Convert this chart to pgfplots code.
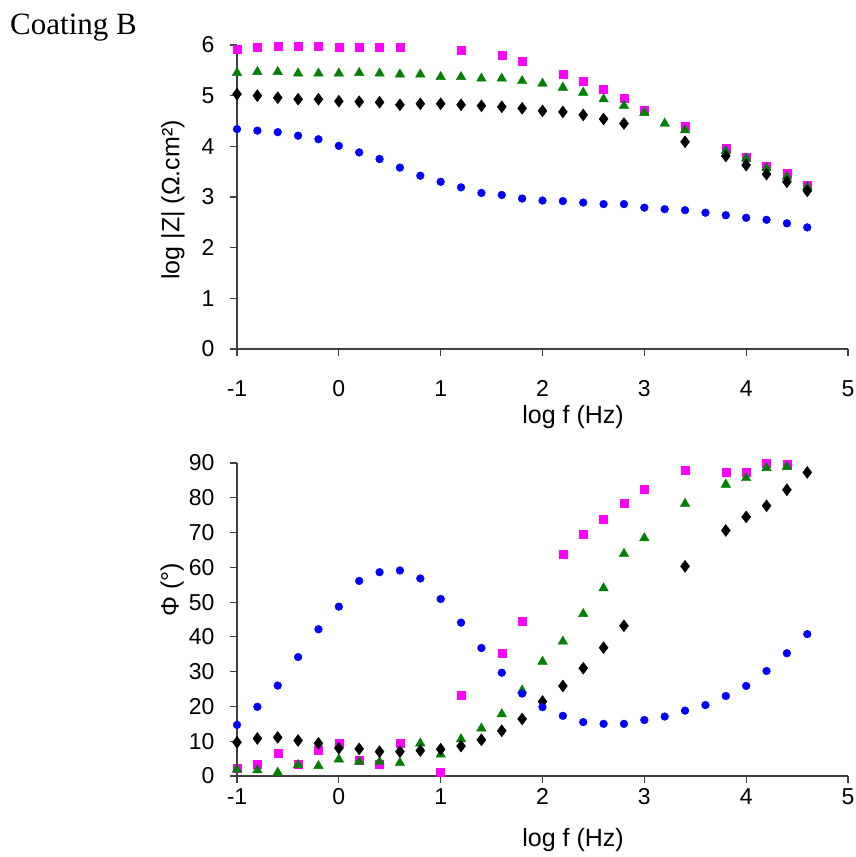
\documentclass[border=0pt]{standalone}
\usepackage{pgfplots}
\pgfplotsset{compat=1.18}
\usepackage{fontspec}
\setmainfont{Liberation Sans}
\newfontfamily\serifB{Liberation Serif}
\definecolor{pinkM}{RGB}{255,0,255}
\definecolor{greenM}{RGB}{0,128,0}
\definecolor{blueM}{RGB}{0,0,255}
\pgfplotsset{
  myaxis/.style={
    scale only axis, axis x line=bottom, axis y line=left,
    axis line style={-, line width=1.3pt, color=black!75},
    every tick/.style={line width=1.1pt, black!75},
    tick align=outside, major tick length=7pt,
    xmin=-1, xmax=5, xtick={-1,0,...,5},
    tick label style={font=\fontsize{23}{28}\selectfont},
    label style={font=\fontsize{25}{30}\selectfont},
    /pgf/number format/assume math mode=true,
    yticklabel style={xshift=-12pt},
    clip=false,
  },
  pk/.style={only marks, mark=square*, mark size=4pt, color=pinkM},
  gr/.style={only marks, mark=triangle*, mark size=5.5pt, color=greenM},
  bk/.style={only marks, mark=diamond*, mark size=6pt, color=black},
  bl/.style={only marks, mark=*, mark size=3.9pt, color=blueM},
}
\begin{document}
\begin{tikzpicture}
\path[use as bounding box] (0pt,0pt) rectangle (856pt,857pt);
\node[anchor=base west, font=\serifB\fontsize{31}{36}\selectfont, inner sep=0pt] at (10pt,822pt) {Coating B};

\begin{axis}[myaxis,
  at={(237pt,508pt)}, anchor=south west,
  width=611pt, height=304pt,
  ymin=0, ymax=6, ytick={0,1,...,6},
  xticklabel style={yshift=-21pt},
  xlabel={log f (Hz)}, xlabel style={at={(axis description cs:0.55,-0.225)}, anchor=center},
  ylabel={log |Z| (Ω.cm²)}, ylabel style={at={(axis description cs:-0.105,0.49)}, anchor=center},
]
\addplot[pk] coordinates {(-1,5.92)(-0.8,5.95)(-0.6,5.98)(-0.4,5.98)(-0.2,5.98)(0,5.95)(0.2,5.95)(0.4,5.95)(0.6,5.95)(1.2,5.89)(1.6,5.80)(1.8,5.69)(2.2,5.43)(2.4,5.28)(2.6,5.12)(2.8,4.95)(3.0,4.72)(3.4,4.39)(3.8,3.97)(4.0,3.79)(4.2,3.60)(4.4,3.47)(4.6,3.24)};
\addplot[gr] coordinates {(-1,5.45)(-0.8,5.47)(-0.6,5.47)(-0.4,5.44)(-0.2,5.44)(0,5.44)(0.2,5.45)(0.4,5.44)(0.6,5.42)(0.8,5.42)(1.0,5.37)(1.2,5.37)(1.4,5.34)(1.6,5.34)(1.8,5.29)(2.0,5.24)(2.2,5.16)(2.4,5.06)(2.6,4.93)(2.8,4.80)(3.0,4.66)(3.2,4.45)(3.4,4.32)(3.8,3.91)(4.0,3.76)(4.2,3.57)(4.4,3.40)(4.6,3.20)};
\addplot[bk] coordinates {(-1,5.03)(-0.8,5.00)(-0.6,4.96)(-0.4,4.93)(-0.2,4.93)(0,4.89)(0.2,4.88)(0.4,4.87)(0.6,4.82)(0.8,4.84)(1.0,4.84)(1.2,4.82)(1.4,4.80)(1.6,4.78)(1.8,4.75)(2.0,4.70)(2.2,4.68)(2.4,4.62)(2.6,4.54)(2.8,4.45)(3.4,4.09)(3.8,3.81)(4.0,3.63)(4.2,3.45)(4.4,3.30)(4.6,3.12)};
\addplot[bl] coordinates {(-1,4.34)(-0.8,4.31)(-0.6,4.28)(-0.4,4.21)(-0.2,4.14)(0,4.01)(0.2,3.88)(0.4,3.75)(0.6,3.58)(0.8,3.42)(1.0,3.30)(1.2,3.19)(1.4,3.08)(1.6,3.04)(1.8,2.97)(2.0,2.93)(2.2,2.92)(2.4,2.89)(2.6,2.86)(2.8,2.86)(3.0,2.79)(3.2,2.76)(3.4,2.74)(3.6,2.69)(3.8,2.64)(4.0,2.59)(4.2,2.55)(4.4,2.48)(4.6,2.40)};
\end{axis}

\begin{axis}[myaxis,
  at={(237pt,81pt)}, anchor=south west,
  width=611pt, height=313pt,
  ymin=0, ymax=90, ytick={0,10,...,90},
  xticklabel style={yshift=-2pt},
  xlabel={log f (Hz)}, xlabel style={at={(axis description cs:0.55,-0.205)}, anchor=center},
  ylabel={Φ (°)}, ylabel style={at={(axis description cs:-0.106,0.594)}, anchor=center},
]
\addplot[pk] coordinates {(-1,2.2)(-0.8,3.5)(-0.6,6.5)(-0.4,3.5)(-0.2,7.3)(0,9.4)(0.2,4.4)(0.4,3.5)(0.6,9.4)(1.0,1.2)(1.2,23.1)(1.6,35.3)(1.8,44.4)(2.2,63.9)(2.4,69.4)(2.6,73.9)(2.8,78.3)(3.0,82.6)(3.4,87.9)(3.8,87.4)(4.0,87.4)(4.2,90.0)(4.4,89.8)};
\addplot[gr] coordinates {(-1,1.9)(-0.8,1.7)(-0.6,1.0)(-0.4,3.2)(-0.2,2.9)(0,4.8)(0.2,4.1)(0.4,4.1)(0.6,3.8)(0.8,9.4)(1.0,6.2)(1.2,10.6)(1.4,13.7)(1.6,17.8)(1.8,24.6)(2.0,32.9)(2.2,38.7)(2.4,46.6)(2.6,54.0)(2.8,63.9)(3.0,68.4)(3.4,78.3)(3.8,83.8)(4.0,85.7)(4.2,88.6)(4.4,88.9)};
\addplot[bk] coordinates {(-1,9.7)(-0.8,10.8)(-0.6,11.1)(-0.4,10.2)(-0.2,9.4)(0,8.0)(0.2,7.8)(0.4,7.0)(0.6,7.0)(0.8,7.3)(1.0,7.7)(1.2,8.6)(1.4,10.4)(1.6,13.0)(1.8,16.4)(2.0,21.4)(2.2,25.9)(2.4,31.0)(2.6,36.9)(2.8,43.2)(3.4,60.3)(3.8,70.6)(4.0,74.5)(4.2,77.7)(4.4,82.3)(4.6,87.3)};
\addplot[bl] coordinates {(-1,14.7)(-0.8,19.9)(-0.6,26.0)(-0.4,34.2)(-0.2,42.2)(0,48.7)(0.2,56.1)(0.4,58.6)(0.6,59.1)(0.8,56.8)(1.0,50.9)(1.2,44.1)(1.4,36.8)(1.6,29.7)(1.8,23.7)(2.0,19.8)(2.2,17.3)(2.4,15.5)(2.6,15.0)(2.8,15.0)(3.0,16.1)(3.2,17.1)(3.4,18.8)(3.6,20.4)(3.8,23.0)(4.0,25.9)(4.2,30.2)(4.4,35.3)(4.6,40.8)};
\end{axis}
\end{tikzpicture}
\end{document}
